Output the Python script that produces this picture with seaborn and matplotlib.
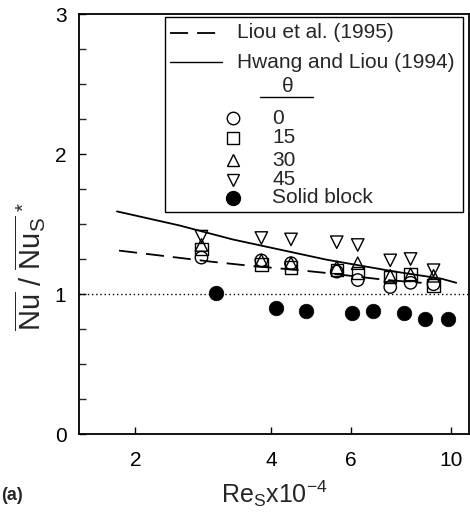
import numpy as np
import pandas as pd
import matplotlib
matplotlib.use("Agg")
import matplotlib.pyplot as plt
import seaborn as sns
from matplotlib.lines import Line2D
from matplotlib.patches import Rectangle

# ---- data ----
re_cols = [2.80, 3.80, 4.42, 5.58, 6.21, 7.33, 8.13, 9.14]
nu_theta0 = [1.26, 1.24, 1.22, 1.16, 1.10, 1.05, 1.08, 1.07]
nu_theta15 = [1.32, 1.21, 1.19, 1.17, 1.15, 1.12, 1.14, 1.06]
nu_theta30 = [1.35, 1.24, 1.22, 1.19, 1.22, 1.13, 1.14, 1.13]
nu_theta45 = [1.41, 1.40, 1.39, 1.37, 1.35, 1.24, 1.25, 1.17]

re_solid = [3.02, 4.10, 4.76, 6.04, 6.72, 7.88, 8.74, 9.83]
nu_solid = [1.005, 0.902, 0.879, 0.867, 0.879, 0.862, 0.819, 0.819]

re_liou = [1.84, 2.96, 3.63, 4.61, 5.30, 6.35, 7.20, 8.60]
nu_liou = [1.31, 1.23, 1.20, 1.17, 1.15, 1.12, 1.10, 1.08]

re_hwang = [1.82, 2.50, 3.28, 4.00, 5.30, 7.50, 9.50, 10.26]
nu_hwang = [1.59, 1.49, 1.39, 1.33, 1.245, 1.16, 1.11, 1.08]

theta_labels = ["0", "15", "30", "45"]
line_labels = ["Liou et al. (1995)", "Hwang and Liou (1994)"]
solid_label = "Solid block"
x_ticks = [2, 4, 6, 10]
y_ticks = [0, 1, 2, 3]

sns.set_style("ticks")
plt.rcParams['font.family'] = ['Liberation Sans', 'DejaVu Sans']
plt.rcParams['mathtext.fontset'] = 'custom'
plt.rcParams['mathtext.rm'] = 'Liberation Sans'
plt.rcParams['mathtext.it'] = 'Liberation Sans'
plt.rcParams['mathtext.bf'] = 'Liberation Sans:bold'

fig = plt.figure(figsize=(4.7, 5.15), dpi=100)
ax = fig.add_axes([79/470, 81/515, 390/470, 420/515])

df_liou = pd.DataFrame({"Re": re_liou, "Nu": nu_liou})
df_hwang = pd.DataFrame({"Re": re_hwang, "Nu": nu_hwang})
sns.lineplot(data=df_liou, x="Re", y="Nu", ax=ax, color="black", lw=1.3,
             dashes=False, sort=True, estimator=None)
ax.lines[-1].set_dashes([10, 5])
sns.lineplot(data=df_hwang, x="Re", y="Nu", ax=ax, color="black", lw=1.3,
             sort=True, estimator=None)

ax.axhline(1.0, color="black", lw=1.0, ls=(0, (1, 2)))

markers = ["o", "s", "^", "v"]
series = [nu_theta0, nu_theta15, nu_theta30, nu_theta45]
for lab, m, vals in zip(theta_labels, markers, series):
    d = pd.DataFrame({"Re": re_cols, "Nu": vals})
    sns.scatterplot(data=d, x="Re", y="Nu", ax=ax, marker=m, s=80,
                    facecolor="none", edgecolor="black", linewidth=1.0, zorder=4)

d = pd.DataFrame({"Re": re_solid, "Nu": nu_solid})
sns.scatterplot(data=d, x="Re", y="Nu", ax=ax, marker="o", s=110,
                color="black", edgecolor="black", linewidth=0.5, zorder=4)

ax.set_xscale("log")
ax.set_xlim(1.5, 10.95)
ax.set_ylim(0, 3)
ax.set_xticks(x_ticks)
ax.set_xticklabels([str(v) for v in x_ticks])
ax.xaxis.set_minor_locator(matplotlib.ticker.NullLocator())
ax.set_yticks(y_ticks)
ax.set_yticks(np.arange(0, 3.01, 0.25), minor=True)
ax.tick_params(axis="both", which="major", direction="in", length=5, width=1,
               labelsize=15, pad=9, colors="black")
ax.tick_params(axis="y", which="minor", direction="in", length=5, width=1)
ax.tick_params(axis="x", which="major", pad=12)
for s in ax.spines.values():
    s.set_linewidth(1.3)
    s.set_color("black")

ax.set_xlabel(r"$\mathrm{Re_S x10^{-4}}$", fontsize=18)
ax.xaxis.set_label_coords(0.5, -0.105)
ax.set_ylabel(r"$\overline{\mathrm{Nu}}\ /\ \overline{\mathrm{Nu_S}}^{\,*}$", fontsize=21)
ax.yaxis.set_label_coords(-0.08, 0.40)

# legend (manual, axes coordinates)
T = ax.transAxes
ax.add_patch(Rectangle((0.2205, 0.5286), 0.9846 - 0.2205, 0.9929 - 0.5286,
                       transform=T, fill=True, facecolor="white",
                       edgecolor="black", lw=1.0, zorder=5))
ax.add_line(Line2D([0.233, 0.367], [0.9548, 0.9548], transform=T, color="black",
                   lw=1.3, dashes=[10, 5], zorder=6))
ax.add_line(Line2D([0.233, 0.367], [0.8857, 0.8857], transform=T, color="black",
                   lw=1.0, zorder=6))
ax.text(0.405, 0.9548, line_labels[0], transform=T, fontsize=15, va="center", zorder=6)
ax.text(0.405, 0.8857, line_labels[1], transform=T, fontsize=15, va="center", zorder=6)
ax.text(0.533, 0.828, r"$\theta$", transform=T, fontsize=15, ha="center", va="center",
        zorder=6, family="DejaVu Serif")
ax.add_line(Line2D([0.464, 0.600], [0.802, 0.802], transform=T, color="black", lw=1.0, zorder=6))
rows_y = [0.752, 0.705, 0.652, 0.605, 0.562]
for lab, m, yy in zip(theta_labels, markers, rows_y[:4]):
    ax.add_line(Line2D([0.395], [yy], transform=T, marker=m, ms=9, mfc="none",
                       mec="black", mew=1.0, ls="none", zorder=6))
    ax.text(0.495, yy, lab, transform=T, fontsize=15, va="center", zorder=6)
ax.add_line(Line2D([0.395], [rows_y[4]], transform=T, marker="o", ms=10, mfc="black",
                   mec="black", ls="none", zorder=6))
ax.text(0.495, rows_y[4], solid_label, transform=T, fontsize=15, va="center", zorder=6)

fig.text(1/470, 1 - 495/515, "(a)", fontsize=13, fontweight="bold", va="center")

fig.savefig("out.png", dpi=100)
